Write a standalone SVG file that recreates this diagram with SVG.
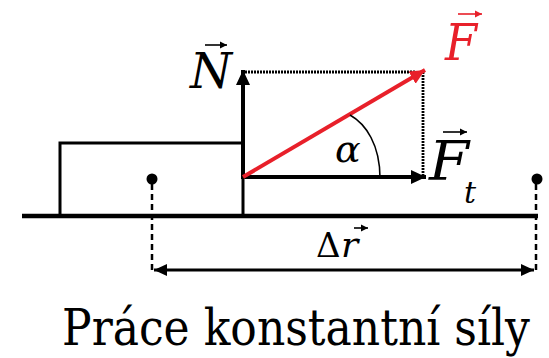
<svg xmlns="http://www.w3.org/2000/svg" width="549" height="358" viewBox="0 0 549 358">
<style>
  text { font-family: 'DejaVu Serif', 'Liberation Serif', serif; fill: #000; }
  .it { font-style: italic; }
  .vec { stroke: #000; stroke-width: 4; fill: none; }
  .dot { stroke: #000; stroke-width: 2.8; stroke-dasharray: 2 1; fill: none; }
  .dash { stroke: #000; stroke-width: 2.5; stroke-dasharray: 6 4; fill: none; }
  .small { stroke-width: 1.6; fill: none; }
</style>
<defs>
  <marker id="ah" markerUnits="userSpaceOnUse" markerWidth="16" markerHeight="16" viewBox="0 0 16 16" refX="15" refY="8" orient="auto">
    <path d="M0,1 L15,8 L0,15 Z" fill="#000"/>
  </marker>
  <marker id="ahr" markerUnits="userSpaceOnUse" markerWidth="16" markerHeight="16" viewBox="0 0 16 16" refX="15" refY="8" orient="auto">
    <path d="M0,1 L15,8 L0,15 Z" fill="#e8202a"/>
  </marker>
  <marker id="ahd" markerUnits="userSpaceOnUse" markerWidth="14" markerHeight="14" viewBox="0 0 14 14" refX="13" refY="7" orient="auto-start-reverse">
    <path d="M0,1 L13,7 L0,13 Z" fill="#000"/>
  </marker>
  <marker id="sa" markerUnits="userSpaceOnUse" markerWidth="8" markerHeight="8" viewBox="0 0 8 8" refX="7" refY="4" orient="auto">
    <path d="M0,0.5 L7,4 L0,7.5 Z" fill="#000"/>
  </marker>
  <marker id="sar" markerUnits="userSpaceOnUse" markerWidth="8" markerHeight="8" viewBox="0 0 8 8" refX="7" refY="4" orient="auto">
    <path d="M0,0.5 L7,4 L0,7.5 Z" fill="#e8202a"/>
  </marker>
</defs>

<g id="ground">
  <line x1="22" y1="216" x2="538" y2="216" stroke="#000" stroke-width="4.5"/>
</g>
<g id="block">
  <polyline points="60,216 60,143 243,143 243,216" fill="none" stroke="#000" stroke-width="3"/>
</g>
<g id="points">
  <circle cx="152" cy="179" r="5.5" fill="#000"/>
  <circle cx="537" cy="179" r="5.5" fill="#000"/>
</g>

<g id="connectors">
  <line class="dot" x1="245" y1="72" x2="415" y2="72"/>
  <line class="dot" x1="423" y1="72" x2="423" y2="177"/>
  <line class="dash" x1="152" y1="184" x2="152" y2="272"/>
  <line class="dash" x1="536" y1="184" x2="536" y2="272"/>
  <line x1="154" y1="270" x2="534" y2="270" stroke="#000" stroke-width="3" marker-start="url(#ahd)" marker-end="url(#ahd)"/>
  <line class="vec" x1="243" y1="179" x2="243" y2="70" marker-end="url(#ah)"/>
  <line class="vec" x1="241" y1="177" x2="426" y2="177" marker-end="url(#ah)"/>
  <line x1="243" y1="177" x2="425" y2="70" stroke="#e8202a" stroke-width="4" marker-end="url(#ahr)"/>
  <path d="M350,115 C366,124 380,145 380,178" fill="none" stroke="#000" stroke-width="1.6"/>
</g>

<g id="label-N">
  <text class="it" x="190" y="88" font-size="48" textLength="42" lengthAdjust="spacingAndGlyphs">N</text>
  <line x1="205" y1="45" x2="227" y2="45" stroke="#000" class="small" marker-end="url(#sa)"/>
</g>
<g id="label-F">
  <text class="it" x="445" y="60" font-size="50" textLength="32" lengthAdjust="spacingAndGlyphs" style="fill:#e8202a">F</text>
  <line x1="458" y1="14" x2="482" y2="14" stroke="#e8202a" class="small" marker-end="url(#sar)"/>
</g>
<g id="label-Ft">
  <text class="it" x="429" y="180" font-size="55" textLength="40" lengthAdjust="spacingAndGlyphs">F</text>
  <text class="it" x="464" y="203" font-size="30">t</text>
  <line x1="443" y1="132" x2="467" y2="132" stroke="#000" class="small" marker-end="url(#sa)"/>
</g>
<g id="label-alpha">
  <text class="it" x="335" y="162" font-size="38">α</text>
</g>
<g id="label-dr">
  <text x="316" y="257" font-size="34">Δ</text>
  <text class="it" x="341" y="257" font-size="36">r</text>
  <line x1="354" y1="228" x2="368" y2="228" stroke="#000" class="small" marker-end="url(#sa)"/>
</g>
<g id="title">
  <text x="62" y="345" font-size="51" textLength="468" lengthAdjust="spacingAndGlyphs">Práce konstantní síly</text>
</g>
</svg>
